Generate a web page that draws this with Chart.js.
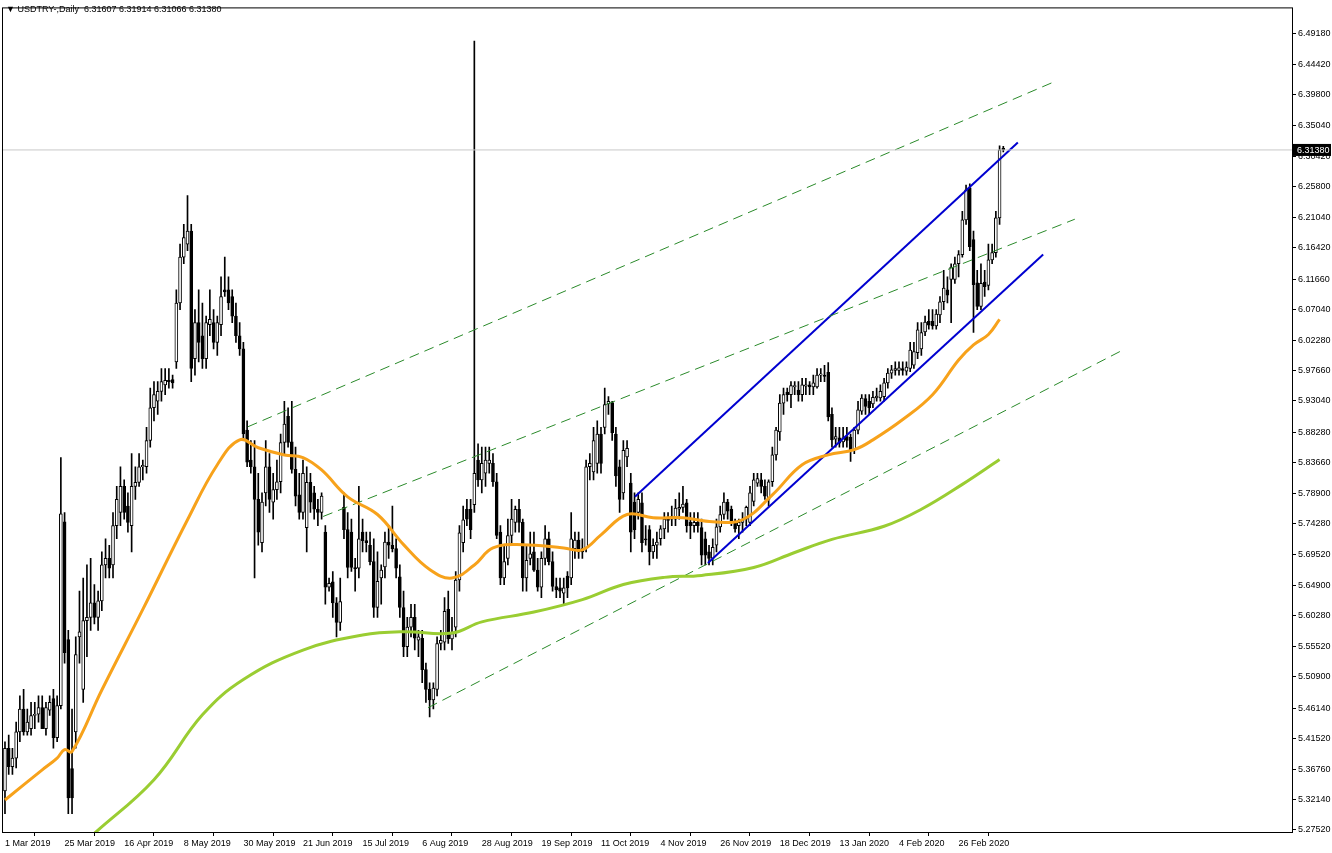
<!DOCTYPE html>
<html>
<head>
<meta charset="utf-8">
<script src="https://cdn.jsdelivr.net/npm/chart.js"></script>
<style>
  html, body { margin: 0; padding: 0; background: #fff; }
  #wrap { position: relative; width: 1332px; height: 853px; }
  #title { position: absolute; left: 6px; top: 4px; font: 9px "Liberation Sans", sans-serif; color: #000; }
</style>
</head>
<body>
<div id="wrap">
  <canvas id="c" width="1332" height="853"></canvas>
  <div id="title">▼ USDTRY-,Daily&nbsp; 6.31607 6.31914 6.31066 6.31380</div>
</div>
<script>
// USDTRY daily candles, 1 Mar 2019 - Mar 2020
const opens = [
  5.335,5.40,5.372,5.385,5.425,5.46,5.425,5.43,5.45,5.452,
  5.462,5.43,5.458,5.476,5.416,5.465,5.746,5.566,5.369,5.425,
  5.57,5.49,5.595,5.60,5.622,5.60,5.625,5.68,5.69,5.68,
  5.74,5.76,5.80,5.77,5.74,5.80,5.806,5.83,5.83,5.87,
  5.92,5.93,5.945,5.955,5.962,5.963,5.99,6.08,6.15,6.17,
  6.19,5.995,6.05,6.03,5.995,6.047,6.05,6.02,6.047,6.10,
  6.10,6.09,6.06,6.03,6.01,5.886,5.84,5.83,5.78,5.714,
  5.79,5.83,5.776,5.795,5.807,5.867,5.907,5.868,5.826,5.787,
  5.76,5.737,5.806,5.79,5.765,5.76,5.73,5.646,5.654,5.622,
  5.592,5.768,5.734,5.73,5.676,5.675,5.73,5.717,5.71,5.685,
  5.615,5.66,5.677,5.715,5.71,5.705,5.662,5.615,5.555,5.585,
  5.60,5.565,5.568,5.52,5.49,5.474,5.49,5.56,5.562,5.612,
  5.567,5.585,5.657,5.714,5.765,5.765,5.772,5.84,5.81,5.82,
  5.835,5.835,5.807,5.73,5.66,5.69,5.725,5.745,5.765,5.745,
  5.66,5.69,5.70,5.672,5.646,5.69,5.72,5.685,5.647,5.645,
  5.637,5.663,5.66,5.705,5.718,5.705,5.706,5.83,5.822,5.835,
  5.88,5.89,5.926,5.928,5.88,5.83,5.79,5.845,5.805,5.776,
  5.76,5.775,5.72,5.734,5.70,5.71,5.72,5.735,5.752,5.754,
  5.75,5.765,5.768,5.775,5.745,5.74,5.745,5.737,5.72,5.70,
  5.69,5.71,5.738,5.757,5.776,5.765,5.745,5.74,5.745,5.75,
  5.745,5.777,5.805,5.81,5.80,5.78,5.807,5.848,5.883,5.927,
  5.944,5.94,5.952,5.947,5.94,5.953,5.955,5.952,5.952,5.97,
  5.97,5.974,5.91,5.872,5.874,5.868,5.876,5.875,5.856,5.886,
  5.915,5.934,5.93,5.926,5.935,5.935,5.937,5.958,5.973,5.977,
  5.977,5.98,5.976,5.98,5.985,6.004,6.01,6.036,6.052,6.052,
  6.045,6.062,6.082,6.10,6.116,6.116,6.14,6.154,6.207,6.256,
  6.177,6.111,6.075,6.112,6.107,6.146,6.157,6.21,6.31607
];
const highs = [
  5.41,5.42,5.40,5.44,5.48,5.49,5.46,5.47,5.47,5.48,
  5.48,5.47,5.48,5.49,5.48,5.844,5.76,5.58,5.46,5.57,
  5.64,5.66,5.68,5.69,5.65,5.64,5.70,5.72,5.71,5.76,
  5.80,5.83,5.81,5.79,5.85,5.83,5.85,5.84,5.89,5.95,
  5.96,5.96,5.98,5.98,5.98,5.97,6.10,6.17,6.20,6.244,
  6.20,6.07,6.10,6.08,6.06,6.10,6.07,6.06,6.12,6.15,
  6.12,6.10,6.08,6.05,6.02,5.90,5.87,5.87,5.82,5.79,
  5.87,5.85,5.82,5.84,5.88,5.93,5.92,5.93,5.86,5.82,
  5.84,5.83,5.82,5.80,5.78,5.79,5.74,5.66,5.67,5.63,
  5.66,5.79,5.76,5.75,5.69,5.80,5.75,5.73,5.73,5.72,
  5.70,5.68,5.73,5.74,5.77,5.72,5.68,5.64,5.60,5.62,
  5.62,5.58,5.58,5.53,5.50,5.50,5.57,5.58,5.63,5.64,
  5.60,5.67,5.74,5.77,5.78,5.78,6.48,5.865,5.86,5.86,
  5.86,5.85,5.82,5.74,5.71,5.75,5.78,5.77,5.78,5.75,
  5.71,5.73,5.73,5.69,5.70,5.74,5.73,5.70,5.66,5.66,
  5.66,5.67,5.76,5.73,5.73,5.72,5.84,5.85,5.89,5.90,
  5.89,5.95,5.937,5.93,5.89,5.84,5.87,5.87,5.82,5.79,
  5.79,5.79,5.74,5.74,5.72,5.73,5.74,5.76,5.76,5.77,
  5.78,5.79,5.80,5.78,5.76,5.76,5.76,5.75,5.73,5.71,
  5.72,5.75,5.77,5.79,5.78,5.77,5.75,5.75,5.76,5.77,
  5.80,5.82,5.82,5.82,5.81,5.81,5.86,5.89,5.94,5.95,
  5.95,5.96,5.96,5.96,5.965,5.965,5.96,5.97,5.98,5.98,
  5.985,5.989,5.92,5.89,5.89,5.89,5.89,5.88,5.89,5.93,
  5.94,5.94,5.94,5.945,5.95,5.955,5.965,5.98,5.985,5.99,
  5.99,5.99,5.99,6.02,6.02,6.05,6.05,6.06,6.07,6.07,
  6.07,6.09,6.13,6.12,6.14,6.15,6.16,6.22,6.26,6.262,
  6.19,6.13,6.14,6.13,6.17,6.17,6.22,6.32,6.31914
];
const lows = [
  5.30,5.36,5.36,5.37,5.41,5.42,5.42,5.42,5.43,5.44,
  5.43,5.42,5.45,5.40,5.41,5.46,5.53,5.30,5.30,5.40,
  5.53,5.47,5.54,5.58,5.59,5.58,5.61,5.66,5.66,5.66,
  5.72,5.74,5.75,5.73,5.70,5.78,5.80,5.81,5.82,5.86,
  5.90,5.91,5.93,5.94,5.95,5.95,5.98,6.07,6.14,6.16,
  5.96,5.97,5.99,5.98,5.98,6.03,6.01,6.00,6.03,6.09,
  6.07,6.05,6.02,6.00,5.87,5.83,5.82,5.66,5.71,5.70,
  5.77,5.76,5.75,5.78,5.79,5.85,5.86,5.82,5.77,5.75,
  5.75,5.70,5.76,5.75,5.74,5.75,5.62,5.64,5.60,5.57,
  5.58,5.72,5.66,5.67,5.64,5.66,5.70,5.70,5.68,5.60,
  5.60,5.62,5.66,5.69,5.70,5.66,5.60,5.54,5.54,5.57,
  5.55,5.54,5.50,5.47,5.448,5.46,5.48,5.55,5.55,5.56,
  5.55,5.57,5.64,5.70,5.74,5.72,5.76,5.80,5.79,5.80,
  5.82,5.80,5.72,5.65,5.65,5.68,5.71,5.73,5.73,5.64,
  5.64,5.68,5.67,5.64,5.63,5.68,5.68,5.64,5.63,5.63,
  5.62,5.63,5.65,5.69,5.69,5.69,5.70,5.81,5.81,5.82,
  5.82,5.88,5.91,5.87,5.80,5.76,5.78,5.83,5.70,5.72,
  5.75,5.70,5.71,5.68,5.69,5.69,5.71,5.72,5.73,5.74,
  5.74,5.75,5.76,5.73,5.72,5.73,5.73,5.68,5.68,5.68,
  5.68,5.70,5.73,5.75,5.75,5.74,5.73,5.72,5.73,5.74,
  5.74,5.77,5.80,5.79,5.78,5.77,5.80,5.84,5.87,5.91,
  5.93,5.92,5.94,5.93,5.93,5.94,5.94,5.94,5.95,5.96,
  5.96,5.90,5.86,5.86,5.86,5.86,5.86,5.838,5.85,5.88,
  5.91,5.91,5.91,5.92,5.93,5.93,5.93,5.95,5.965,5.97,
  5.97,5.97,5.97,5.975,5.98,5.995,6.00,6.03,6.04,6.04,
  6.04,6.05,6.07,6.08,6.05,6.11,6.12,6.15,6.20,6.16,
  6.035,6.07,6.07,6.09,6.10,6.14,6.15,6.20,6.31066
];
const closes = [
  5.40,5.372,5.385,5.425,5.46,5.425,5.44,5.45,5.452,5.462,
  5.43,5.462,5.47,5.416,5.465,5.758,5.546,5.324,5.324,5.543,
  5.578,5.595,5.60,5.622,5.60,5.625,5.68,5.69,5.675,5.74,
  5.78,5.80,5.76,5.745,5.80,5.806,5.83,5.832,5.87,5.92,
  5.94,5.945,5.96,5.962,5.96,5.958,6.08,6.15,6.18,6.19,
  5.98,6.05,6.02,5.995,6.05,6.055,6.02,6.05,6.09,6.097,
  6.08,6.06,6.03,6.01,5.88,5.837,5.83,5.78,5.73,5.776,
  5.83,5.78,5.795,5.807,5.867,5.895,5.867,5.826,5.785,5.76,
  5.82,5.806,5.776,5.765,5.76,5.785,5.646,5.652,5.622,5.592,
  5.624,5.734,5.676,5.676,5.674,5.72,5.717,5.714,5.685,5.615,
  5.655,5.672,5.715,5.71,5.705,5.675,5.615,5.555,5.585,5.60,
  5.568,5.57,5.52,5.49,5.474,5.492,5.56,5.565,5.609,5.567,
  5.575,5.657,5.729,5.749,5.75,5.734,5.82,5.81,5.835,5.84,
  5.84,5.807,5.725,5.66,5.685,5.725,5.75,5.765,5.745,5.66,
  5.687,5.697,5.672,5.646,5.69,5.72,5.685,5.647,5.642,5.64,
  5.645,5.645,5.72,5.718,5.70,5.70,5.83,5.835,5.87,5.88,
  5.835,5.925,5.93,5.882,5.816,5.78,5.855,5.858,5.73,5.734,
  5.78,5.714,5.718,5.70,5.71,5.715,5.735,5.75,5.748,5.75,
  5.767,5.768,5.773,5.74,5.74,5.745,5.74,5.695,5.695,5.69,
  5.707,5.738,5.757,5.776,5.762,5.745,5.735,5.745,5.748,5.768,
  5.79,5.81,5.812,5.80,5.785,5.807,5.848,5.886,5.927,5.94,
  5.94,5.954,5.954,5.94,5.955,5.955,5.952,5.958,5.97,5.972,
  5.968,5.906,5.871,5.876,5.866,5.874,5.87,5.856,5.886,5.917,
  5.935,5.922,5.92,5.936,5.938,5.945,5.958,5.973,5.978,5.98,
  5.981,5.977,5.982,6.008,6.006,6.039,6.035,6.051,6.046,6.045,
  6.063,6.082,6.103,6.092,6.135,6.14,6.154,6.207,6.253,6.166,
  6.108,6.075,6.11,6.105,6.146,6.157,6.21,6.314,6.3138
];

// moving averages, sampled at bar indices
const maFastIdx = [0,10,14,16,18,26,37,49,57,63,68,75,80,85,92,100,107,114,120,126,131,139,150,155,160,167,174,182,190,198,206,214,221,228,233,241,249,256,260,264,267];
const maFastVal = [5.321,5.367,5.385,5.398,5.395,5.489,5.612,5.749,5.833,5.871,5.859,5.848,5.844,5.825,5.784,5.757,5.711,5.673,5.660,5.680,5.706,5.711,5.706,5.703,5.726,5.757,5.752,5.752,5.746,5.749,5.787,5.833,5.848,5.856,5.871,5.902,5.940,5.993,6.016,6.032,6.055];
const maSlowIdx = [24,40,53,64,80,96,107,120,128,142,155,166,177,187,201,212,222,236,246,257,267];
const maSlowVal = [5.270,5.352,5.451,5.505,5.550,5.573,5.578,5.576,5.593,5.608,5.627,5.650,5.661,5.664,5.676,5.699,5.719,5.739,5.765,5.803,5.841];

// drawn trend lines: [startBar, startPrice, endBar, endPrice]
const dashedLines = [
  [65.2, 5.891, 281.3, 6.417],
  [85.4, 5.754, 287.2, 6.208],
  [113.6, 5.462, 300.7, 6.010]
];
const blueLines = [
  [169.1, 5.784, 271.9, 6.325],
  [188.7, 5.683, 278.7, 6.154]
];
const lastPrice = 6.3138;

const dateLabels = ['1 Mar 2019','25 Mar 2019','16 Apr 2019','8 May 2019','30 May 2019','21 Jun 2019','15 Jul 2019','6 Aug 2019','28 Aug 2019','19 Sep 2019','11 Oct 2019','4 Nov 2019','26 Nov 2019','18 Dec 2019','13 Jan 2020','4 Feb 2020','26 Feb 2020'];
const dateStep = 16;
const priceTicks = [6.4918,6.4442,6.3980,6.3504,6.3042,6.2580,6.2104,6.1642,6.1166,6.0704,6.0228,5.9766,5.9304,5.8828,5.8366,5.7890,5.7428,5.6952,5.6490,5.6028,5.5552,5.5090,5.4614,5.4152,5.3676,5.3214,5.2752];

const FONT = { family: '"Liberation Sans", sans-serif', size: 9 };

const bodies = opens.map((o, i) => ({ x: i, y: [o, closes[i]] }));
const wicks = lows.map((l, i) => ({ x: i, y: [l, highs[i]] }));
const bodyFill = opens.map((o, i) => closes[i] >= o ? '#ffffff' : '#000000');

const lineSet = (pts, color, width, dash, tension) => ({
  type: 'line', data: pts, borderColor: color, borderWidth: width, borderDash: dash || [],
  pointRadius: 0, tension: tension || 0, fill: false, order: 0
});

const datasets = [
  { type: 'bar', data: bodies, backgroundColor: bodyFill, borderColor: '#000', borderWidth: 1,
    borderSkipped: false, barThickness: 3, grouped: false, order: 1 },
  { type: 'bar', data: wicks, backgroundColor: '#000', borderWidth: 0,
    barThickness: 1, grouped: false, order: 2 },
  lineSet([{ x: -2, y: lastPrice }, { x: 350, y: lastPrice }], '#c8c8c8', 1, null, 0),
  lineSet(maFastIdx.map((x, i) => ({ x, y: maFastVal[i] })), '#f7a21b', 3, null, 0.4),
  lineSet(maSlowIdx.map((x, i) => ({ x, y: maSlowVal[i] })), '#9acd32', 3, null, 0.4)
];
dashedLines.forEach(l => datasets.push(lineSet([{ x: l[0], y: l[1] }, { x: l[2], y: l[3] }], '#2a8a2a', 1, [10, 6])));
blueLines.forEach(l => datasets.push(lineSet([{ x: l[0], y: l[1] }, { x: l[2], y: l[3] }], '#0000d0', 2)));

// frame and last price tag on the axis
const framePlugin = {
  id: 'frame',
  afterDraw(chart) {
    const { ctx, chartArea: a, scales } = chart;
    ctx.save();
    ctx.strokeStyle = '#000';
    ctx.lineWidth = 1;
    ctx.strokeRect(a.left + 0.5, a.top + 0.5, a.right - a.left, a.bottom - a.top);
    const y = scales.y.getPixelForValue(lastPrice);
    ctx.fillStyle = '#000';
    ctx.fillRect(a.right + 1, y - 6, 38, 12);
    ctx.fillStyle = '#fff';
    ctx.font = '9px "Liberation Sans", sans-serif';
    ctx.textBaseline = 'middle';
    ctx.fillText(lastPrice.toFixed(5), a.right + 5, y + 0.5);
    ctx.restore();
  }
};

new Chart(document.getElementById('c'), {
  data: { datasets },
  options: {
    responsive: false,
    animation: false,
    layout: { padding: { left: 2, top: 0, right: 0, bottom: 0 } },
    plugins: { legend: { display: false }, tooltip: { enabled: false } },
    scales: {
      x: {
        type: 'linear', min: -0.8, max: 345.5, offset: false,
        afterBuildTicks: ax => { ax.ticks = dateLabels.map((_, i) => ({ value: i * dateStep })); },
        afterFit: ax => { ax.height = 21; },
        ticks: {
          autoSkip: false, maxRotation: 0, align: 'start', padding: 2, color: '#000', font: FONT,
          callback: (v) => dateLabels[Math.round(v / dateStep)]
        },
        grid: { drawOnChartArea: false, tickLength: 4, color: '#000' },
        border: { display: false }
      },
      y: {
        type: 'linear', position: 'right', min: 5.2721, max: 6.5315,
        afterBuildTicks: ax => { ax.ticks = priceTicks.map(v => ({ value: v })); },
        afterFit: ax => { ax.width = 40; },
        ticks: { autoSkip: false, padding: 2, color: '#000', font: FONT, callback: v => v.toFixed(5) },
        grid: { drawOnChartArea: false, tickLength: 4, color: '#000' },
        border: { display: false }
      }
    }
  },
  plugins: [framePlugin]
});
</script>
</body>
</html>
